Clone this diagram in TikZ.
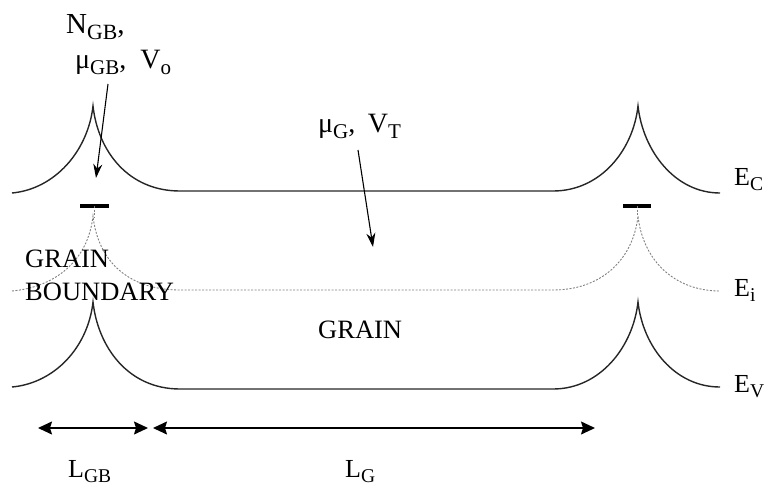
\documentclass[tikz,border=0pt]{standalone}
\usepackage{fontspec}
\setmainfont{Liberation Serif}
\usetikzlibrary{arrows.meta}

% large, lowered subscript as in the scanned figure
\newcommand{\lo}[1]{\raisebox{-0.22em}{\scalebox{0.75}{#1}}}

% one energy band: two cusps joined by a flat stretch
% #1 end level, #2 peak level, #3 flat level
\newcommand{\bandline}[3]{%
  (12,#1) .. controls (55,#1-4) and (88,#2+45) .. (93,#2)
  .. controls (98,#2+45) and (128,#3) .. (180,#3) -- (553,#3)
  .. controls (600,#3) and (633,#2+45) .. (638,#2)
  .. controls (643,#2+45) and (675,#1) .. (720,#1)}

\begin{document}
\begin{tikzpicture}[x=1pt,y=-1pt,>=Stealth,
   band/.style={line width=1.4pt,black!85},
   midgap/.style={line width=0.9pt,black!50,dash pattern=on 2pt off 1.5pt},
   trap/.style={line width=4pt,line cap=butt},
   lbl/.style={font=\fontsize{26}{28}\selectfont,inner sep=0pt,anchor=base west},
   pointer/.style={->,line width=1.1pt,>={Stealth[length=14pt,width=9pt]}},
   dim/.style={<->,line width=1.3pt,>={Stealth[length=14pt,width=13pt,inset=2pt]}}]
  \useasboundingbox (0,0) rectangle (768,488);

  % bands
  \draw[band] \bandline{193}{106}{191};
  \draw[midgap] \bandline{291}{216}{290};
  \draw[band] \bandline{387}{302}{389};

  % trap levels at the boundaries
  \draw[trap] (80,206) -- (109,206);
  \draw[trap] (623,206) -- (651,206);
  \draw[midgap] (94,206) -- (94,217);
  \draw[midgap] (637,206) -- (637,215);

  \node[lbl] (ec) at (734,185) {E\lo{C}};
  \node[lbl] (ei) at (734,296) {E\lo{i}};
  \node[lbl] (ev) at (734,392) {E\lo{V}};

  % parameters
  \node[lbl,font=\fontsize{29}{30}\selectfont] (ngb) at (66,33) {N\lo{GB},};
  \node[lbl,font=\fontsize{28}{30}\selectfont] (mugb) at (75,68) {μ\lo{GB},\hspace{0.5em}V\lo{o}};
  \coordinate (gbfoot) at (108,84);
  \coordinate (gbtip) at (96,178);
  \draw[pointer] (gbfoot) -- (gbtip);

  \node[lbl,font=\fontsize{28}{30}\selectfont] (mug) at (318,132) {μ\lo{G},\hspace{0.45em}V\lo{T}};
  \coordinate (gfoot) at (358,150);
  \coordinate (gtip) at (373,247);
  \draw[pointer] (gfoot) -- (gtip);

  \node[lbl,font=\fontsize{26.5}{33}\selectfont,align=left] (gbname) at (25,300)
     {GRAIN\\BOUNDARY};
  \node[lbl,font=\fontsize{26.5}{28}\selectfont] (gname) at (318,338) {GRAIN};

  % lengths
  \coordinate (d0) at (38,428);
  \coordinate (d1) at (148,428);
  \coordinate (d2) at (153,428);
  \coordinate (d3) at (595,428);
  \draw[dim] (d0) -- (d1);
  \draw[dim] (d2) -- (d3);
  \node[lbl] (lgb) at (68,477) {L\lo{GB}};
  \node[lbl] (lg) at (345,477) {L\lo{G}};
\end{tikzpicture}
\end{document}
